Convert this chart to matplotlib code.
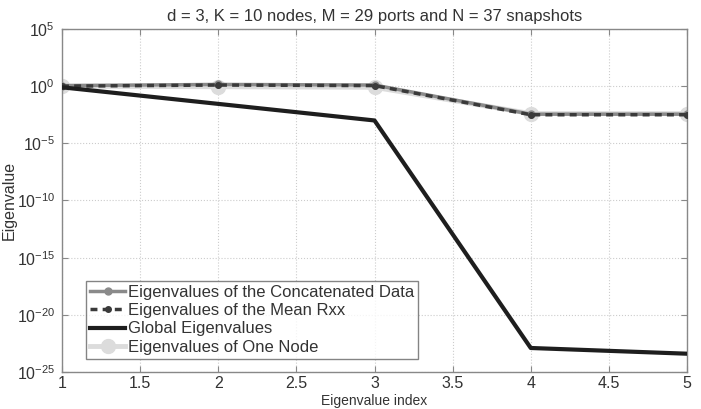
import matplotlib
matplotlib.use("Agg")
import matplotlib.pyplot as plt
import numpy as np
from matplotlib.ticker import FixedLocator, NullLocator

plt.rcParams['font.family'] = ['Liberation Sans', 'DejaVu Sans']
plt.rcParams['mathtext.default'] = 'regular'

idx = [1, 2, 3, 4, 5]
concat_exp = [0.05, 0.15, 0.1, -2.45, -2.45]
meanrxx_exp = [0.0, 0.1, 0.05, -2.5, -2.5]
global_exp = [-0.1, -1.55, -3.0, -22.9, -23.4]
onenode_exp = [0.0, -0.05, -0.1, -2.4, -2.4]
xtick_labels = ['1', '1.5', '2', '2.5', '3', '3.5', '4', '4.5', '5']
ytick_exps = [-25, -20, -15, -10, -5, 0, 5]

concat = 10.0 ** np.array(concat_exp)
meanrxx = 10.0 ** np.array(meanrxx_exp)
glob = 10.0 ** np.array(global_exp)
onenode = 10.0 ** np.array(onenode_exp)

fig = plt.figure(figsize=(7.01, 4.09), dpi=100)
top_px, bot_px = 29, 372
ax = fig.add_axes([62/701, 1-bot_px/409, (687-62)/701, (bot_px-top_px)/409])

ax.semilogy(idx, onenode, color='#dcdcdc', lw=3.5, marker='o', ms=10, mfc='#dcdcdc', mec='#dcdcdc',
            label='Eigenvalues of One Node', zorder=2)
ax.semilogy(idx, concat, color='#8a8a8a', lw=2.5, marker='o', ms=5, mfc='#8a8a8a', mec='#8a8a8a',
            label='Eigenvalues of the Concatenated Data', zorder=3)
ax.semilogy(idx, meanrxx, color='#3a3a3a', lw=2.5, ls=(0, (2, 1.5)), marker='o', ms=4,
            label='Eigenvalues of the Mean Rxx', zorder=4)
ax.semilogy(idx, glob, color='#1e1e1e', lw=3, label='Global Eigenvalues', zorder=5)

ax.set_xlim(1, 5)
ax.set_ylim(1e-25, 1e5)
ax.xaxis.set_major_locator(FixedLocator([float(t) for t in xtick_labels]))
ax.set_xticklabels(xtick_labels)
ax.yaxis.set_major_locator(FixedLocator([10.0**e for e in ytick_exps]))
ax.set_yticklabels([r'$10^{%d}$' % e for e in ytick_exps])
ax.yaxis.set_minor_locator(NullLocator())

ax.tick_params(direction='in', top=True, right=True, length=4, color='#888888',
               labelsize=11.5, labelcolor='#333333', pad=5)
ax.tick_params(axis='x', pad=3)
for s in ax.spines.values():
    s.set_color('#888888')
    s.set_linewidth(1.0)
ax.grid(True, which='major', ls=':', color='#cccccc', lw=0.8)

ax.set_title('d = 3, K = 10 nodes, M = 29 ports and N = 37 snapshots', fontsize=12,
             color='#333333', pad=6)
ax.set_ylabel('Eigenvalue', fontsize=11.5, color='#333333', labelpad=0)
fig.text(374/701, 0.5/409, 'Eigenvalue index', fontsize=10, color='#333333',
         ha='center', va='bottom')

h, l = ax.get_legend_handles_labels()
order = [1, 2, 3, 0]
leg = ax.legend([h[i] for i in order], [l[i] for i in order], loc='lower left',
                bbox_to_anchor=((86-62)/625, 13/(bot_px-top_px)), fontsize=12, frameon=True, fancybox=False,
                edgecolor='#666666', handlelength=2.1, handletextpad=0.15, borderpad=0.25,
                labelspacing=0.2, borderaxespad=0)
leg.get_frame().set_linewidth(1.0)
for t in leg.get_texts():
    t.set_color('#333333')

fig.savefig('out.png', dpi=100)
